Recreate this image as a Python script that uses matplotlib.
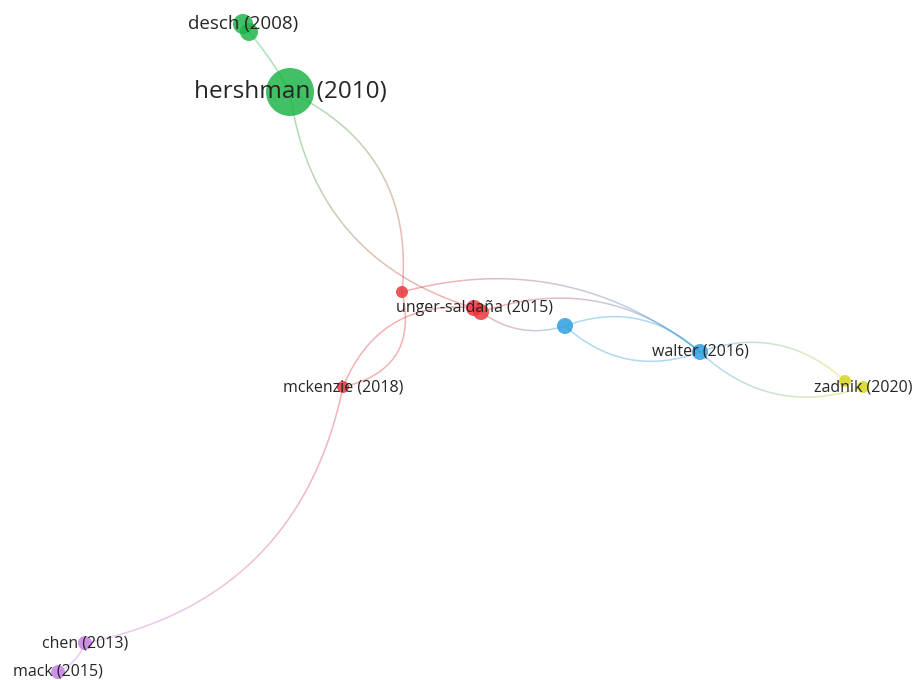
import numpy as np
import matplotlib.pyplot as plt
from matplotlib.collections import LineCollection
from matplotlib.patches import Circle
from matplotlib.colors import to_rgb

# ---------------- network data (layout coordinates) ----------------
node_labels = ["desch (2008)", "", "hershman (2010)", "", "unger-saldaña (2015)", "",
               "", "walter (2016)", "zadnik (2020)", "", "mckenzie (2018)",
               "chen (2013)", "mack (2015)"]
node_x = [243, 249, 290, 402, 474, 481, 565, 700, 863, 845, 343, 85, 58]
node_y = [24, 32, 92, 292, 308, 312, 326, 352, 387, 381, 387, 643, 672]
node_weight = [10, 9, 24, 6, 8, 8, 8, 8, 6, 6, 6, 7, 7]
node_cluster = [1, 1, 1, 0, 0, 0, 2, 2, 3, 3, 0, 4, 4]

# links: source index, target index, bend of the arc
link_src = [1, 2, 2, 3, 5, 5, 6, 6, 7, 7, 3, 10, 10, 11]
link_dst = [2, 3, 4, 7, 7, 6, 7, 7, 9, 8, 10, 4, 11, 12]
link_bend = [-0.05, -0.35, 0.32, -0.25, -0.28, 0.25, 0.3, -0.3, -0.3, 0.3, -0.5, -0.37, -0.33, -0.2]

cluster_colors = ["#e8383d", "#1fb54a", "#2e9fe0", "#d6d61e", "#c47fe3"]
label_sizes = {"hershman (2010)": 17.5, "desch (2008)": 13.5}

plt.rcParams['font.family'] = ['Open Sans', 'DejaVu Sans']

fig = plt.figure(figsize=(9.16, 6.8), dpi=100)
ax = fig.add_axes([0, 0, 1, 1])
ax.set_xlim(0, 916)
ax.set_ylim(680, 0)
ax.axis('off')


def arc(p0, p1, bend, n=80):
    p0 = np.array(p0, float)
    p1 = np.array(p1, float)
    d = p1 - p0
    perp = np.array([-d[1], d[0]])
    ctrl = (p0 + p1) / 2 + perp * bend
    t = np.linspace(0, 1, n)[:, None]
    return (1 - t) ** 2 * p0 + 2 * (1 - t) * t * ctrl + t ** 2 * p1


# edges with a colour gradient between the two clusters
for s, e, b in zip(link_src, link_dst, link_bend):
    pts = arc((node_x[s], node_y[s]), (node_x[e], node_y[e]), b)
    segs = np.stack([pts[:-1], pts[1:]], axis=1)
    c0 = np.array(to_rgb(cluster_colors[node_cluster[s]]))
    c1 = np.array(to_rgb(cluster_colors[node_cluster[e]]))
    t = np.linspace(0, 1, len(segs))[:, None]
    cols = np.hstack([(1 - t) * c0 + t * c1, np.full((len(segs), 1), 0.4)])
    ax.add_collection(LineCollection(segs, colors=cols, linewidths=1.1, zorder=1))

# nodes
for x, y, w, c in zip(node_x, node_y, node_weight, node_cluster):
    ax.add_patch(Circle((x, y), w, facecolor=cluster_colors[c], edgecolor='none',
                        alpha=0.85, zorder=2))

# labels
for lab, x, y in zip(node_labels, node_x, node_y):
    if lab:
        ax.text(x, y, lab, ha='center', va='center', color='#262626',
                fontsize=label_sizes.get(lab, 11.5), zorder=3)

fig.savefig("out.png", dpi=100, facecolor='white')
